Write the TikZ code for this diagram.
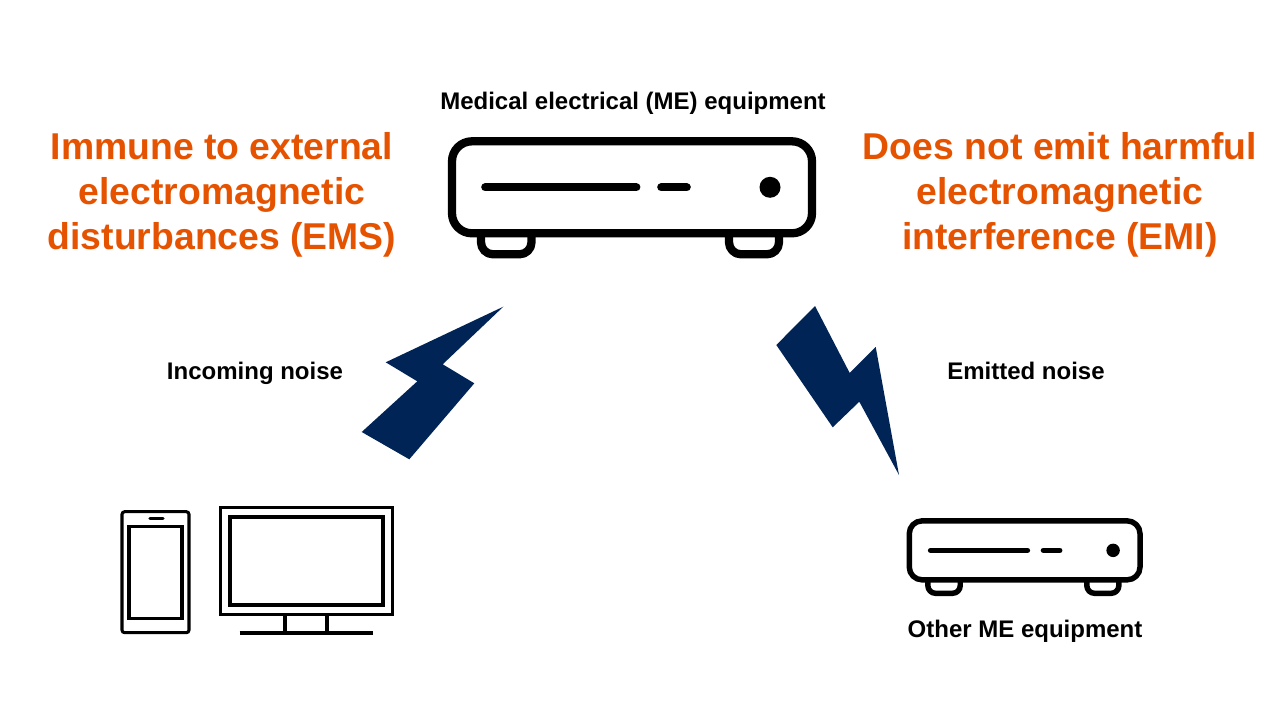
\documentclass[tikz,border=0pt]{standalone}
\usepackage{fontspec}
\setmainfont{Liberation Sans}
\definecolor{headorange}{HTML}{E65300}
\definecolor{boltnavy}{HTML}{002456}
\tikzset{
  x=0.75pt,y=-0.75pt,
  devline/.style={draw=black,line cap=round,line join=round},
  headtext/.style={text=headorange,font=\fontsize{28}{33.75}\selectfont\bfseries,align=center,inner sep=0pt},
  labeltext/.style={text=black,anchor=base,font=\fontsize{18}{21}\selectfont\bfseries,inner sep=0pt},
  bolt/.style={fill=boltnavy,draw=none},
  iconline/.style={draw=black,line join=miter},
}
\newcommand{\meunit}[4]{%
  \begin{scope}[shift={(#1)},scale=#2]
    \draw[devline,line width=#3pt] (33,96) -- (33,105) arc[start angle=180,end angle=90,radius=12] -- (71.5,117) arc[start angle=90,end angle=0,radius=12] -- (83.5,96);
    \draw[devline,line width=#3pt] (281,96) -- (281,105) arc[start angle=180,end angle=90,radius=12] -- (319,117) arc[start angle=90,end angle=0,radius=12] -- (331,96);
    \draw[devline,line width=#3pt,rounded corners=#4pt] (4,4) rectangle (364,96);
    \draw[devline,line width=#3pt] (37.3,50) -- (188.3,50);
    \draw[devline,line width=#3pt] (213.3,50) -- (238.7,50);
    \fill[black] (322,50) circle[radius=10.5];
  \end{scope}}
\begin{document}
\begin{tikzpicture}
\useasboundingbox (0,0) rectangle (1280,720);
\fill[white] (0,0) rectangle (1280,720);
\node[labeltext] (metitle) at (633,110) {Medical electrical (ME) equipment};
\node[headtext] (ems) at (222,195) {Immune to external\\electromagnetic\\disturbances (EMS)};
\node[headtext] (emi) at (1060,195) {Does not emit harmful\\electromagnetic\\interference (EMI)};
\node[labeltext] (incoming) at (255,379) {Incoming noise};
\node[labeltext] (emitted) at (1026,379) {Emitted noise};
\node[labeltext] (other) at (1025,637) {Other ME equipment};
\meunit{448,137.3}{1}{6.2}{15}
\meunit{906.7,518.3}{0.641}{4.1}{9.6}
\fill[bolt] (503.3,306.7) -- (442.7,364.3) -- (474.3,383.3) -- (409.3,459.3) -- (361.7,432) -- (417.3,381.3) -- (385.7,362.3) -- cycle;
\fill[bolt] (815,306) -- (849.7,373) -- (875.7,347) -- (899,475) -- (859.3,401.7) -- (832.7,427.3) -- (776.3,345) -- cycle;
\draw[iconline,line width=2.3pt,rounded corners=2pt] (122,511.7) rectangle (189,632.7);
\draw[iconline,line width=2.3pt] (129,526.3) rectangle (182,618.7);
\draw[iconline,line width=2.3pt,line cap=round] (150,518.7) -- (163,518.7);
\draw[iconline,line width=2.6pt] (220.3,507.3) rectangle (392.7,614.3);
\draw[iconline,line width=2.9pt] (230.2,516.8) rectangle (383.2,604.8);
\draw[iconline,line width=2.8pt] (285.3,614) -- (285.3,633);
\draw[iconline,line width=2.8pt] (327.3,614) -- (327.3,633);
\draw[iconline,line width=2.8pt] (239.7,633.3) -- (373.3,633.3);
\end{tikzpicture}
\end{document}
